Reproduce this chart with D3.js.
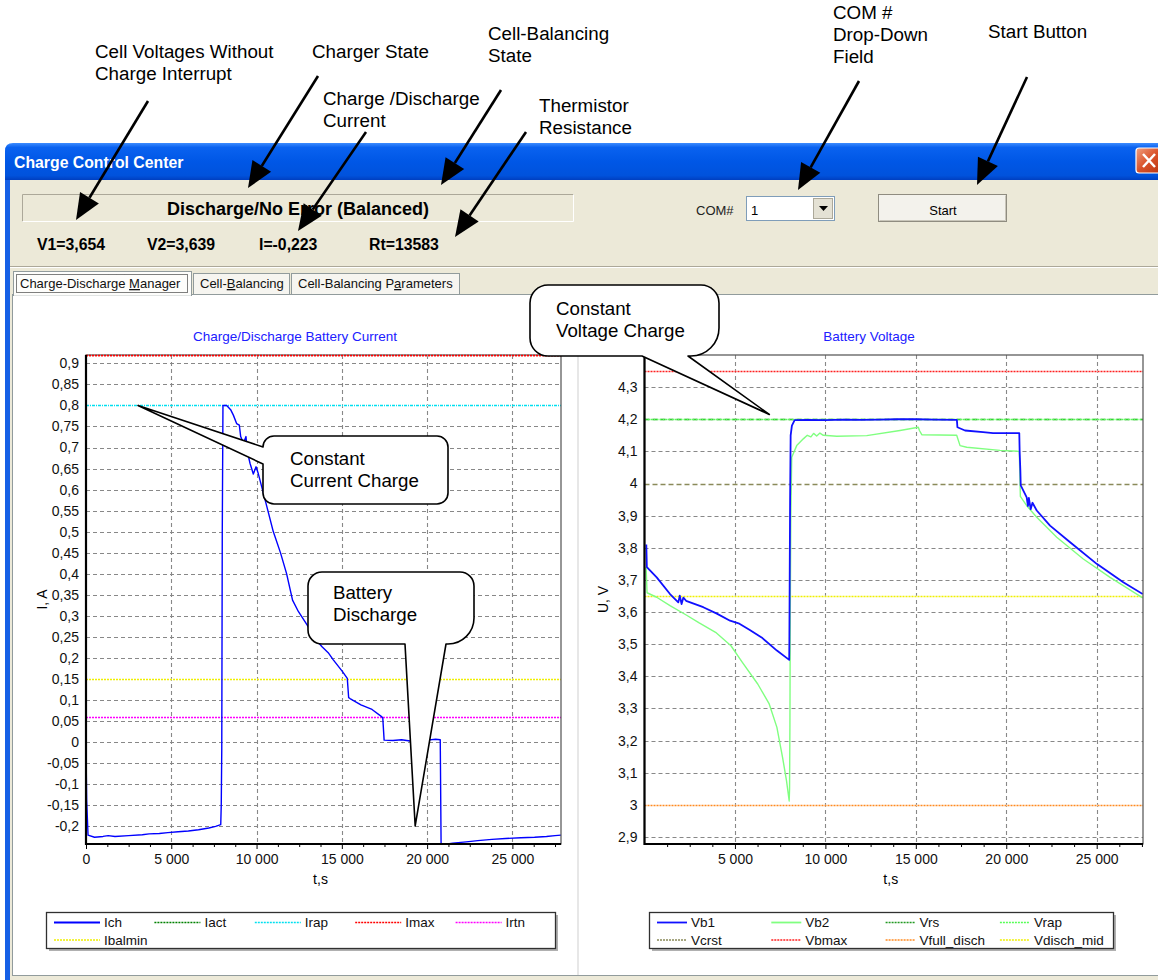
<!DOCTYPE html>
<html>
<head>
<meta charset="utf-8">
<script src="https://cdn.jsdelivr.net/npm/d3@7"></script>
<style>
  html, body { margin: 0; padding: 0; background: #fff; }
  svg { display: block; font-family: "Liberation Sans", Arial, sans-serif; }
</style>
</head>
<body>
<div id="chart"></div>
<script>
// ---- data ----
const ich = [
  [0, -0.02], [40, -0.14], [120, -0.222], [500, -0.227], [1000, -0.225], [1300, -0.223], [1700, -0.225],
  [2500, -0.223], [3300, -0.221], [3700, -0.219], [4300, -0.218], [4800, -0.216], [5400, -0.214],
  [6000, -0.212], [6600, -0.209], [7200, -0.205], [7600, -0.201], [7900, -0.197], [7930, -0.15],
  [7960, -0.02], [7990, 0.5], [8030, 0.8], [8250, 0.8], [8480, 0.79], [8640, 0.777], [8830, 0.757],
  [8990, 0.753], [9070, 0.726], [9230, 0.71], [9380, 0.726], [9460, 0.69], [9620, 0.662], [9810, 0.637],
  [9970, 0.654], [10100, 0.638], [10300, 0.607], [10600, 0.56], [10980, 0.5], [11400, 0.45], [11760, 0.4],
  [12110, 0.337], [12450, 0.31], [12980, 0.277], [13410, 0.246], [13840, 0.226], [14200, 0.212],
  [14500, 0.195], [15040, 0.167], [15320, 0.151], [15400, 0.105], [15480, 0.103], [16120, 0.088],
  [16770, 0.077], [17330, 0.06], [17400, 0.057], [17480, 0.004], [18000, 0.003], [18500, 0.005],
  [19000, 0.002], [19500, 0.006], [20000, 0.004], [20500, 0.006], [20770, 0.005], [20820, -0.245],
  [21500, -0.241], [22300, -0.238], [22970, -0.235], [23800, -0.232], [24600, -0.23], [25500, -0.228],
  [26300, -0.227], [27000, -0.225], [27500, -0.223], [27850, -0.222]
];
const vb1 = [
  [100, 3.81], [130, 3.74], [675, 3.708], [1410, 3.656], [1870, 3.63], [1950, 3.651], [2050, 3.625],
  [2150, 3.645], [2300, 3.635], [3250, 3.615], [4000, 3.595], [4730, 3.573], [5200, 3.565], [5800, 3.545],
  [6475, 3.521], [7320, 3.48], [8000, 3.451], [8010, 3.51], [8030, 3.73], [8050, 3.95], [8080, 4.15],
  [8150, 4.18], [8300, 4.197], [9000, 4.198], [10000, 4.197], [11000, 4.199], [12000, 4.198],
  [13000, 4.199], [14000, 4.2], [15000, 4.2], [16000, 4.199], [17270, 4.198], [17300, 4.175],
  [17720, 4.165], [18720, 4.16], [19270, 4.157], [20720, 4.157], [20740, 4.1], [20780, 4.04],
  [20800, 3.994], [21130, 3.957], [21200, 3.93], [21250, 3.955], [21350, 3.92], [21450, 3.94],
  [21685, 3.916], [22420, 3.869], [23530, 3.817], [25000, 3.75], [26470, 3.693], [27545, 3.656]
];
const vb2 = [
  [90, 3.74], [140, 3.66], [675, 3.646], [1410, 3.62], [2330, 3.59], [3000, 3.567], [3930, 3.537],
  [4780, 3.495], [5410, 3.443], [6260, 3.376], [6895, 3.314], [7320, 3.241], [7635, 3.147], [7850, 3.075],
  [8000, 3.012], [8020, 3.05], [8040, 3.25], [8060, 3.6], [8090, 3.9], [8140, 4.082], [8415, 4.118],
  [8780, 4.139], [9000, 4.15], [9200, 4.145], [9350, 4.156], [9520, 4.148], [9700, 4.157], [9885, 4.15],
  [10630, 4.147], [12285, 4.149], [14125, 4.165], [15140, 4.175], [15200, 4.165], [15330, 4.152],
  [17260, 4.15], [17445, 4.118], [17815, 4.113], [19655, 4.103], [20720, 4.1], [20780, 3.96],
  [21130, 3.931], [21685, 3.895], [22790, 3.833], [24260, 3.765], [25740, 3.708], [27545, 3.644]
];
const currentSeries = ["Ich", "Iact", "Irap", "Imax", "Irtn", "Ibalmin"];
const currentLimits = [["Irap", 0.8], ["Imax", 0.92], ["Irtn", 0.06], ["Ibalmin", 0.15]];
const voltageSeries = ["Vb1", "Vb2", "Vrs", "Vrap", "Vcrst", "Vbmax", "Vfull_disch", "Vdisch_mid"];
const voltageLimits = [["Vrs", 4.2], ["Vrap", 4.2], ["Vcrst", 4.0], ["Vbmax", 4.35], ["Vfull_disch", 3.0], ["Vdisch_mid", 3.65]];
const timeTicksLeft = [0, 5000, 10000, 15000, 20000, 25000];
const timeTicksRight = [5000, 10000, 15000, 20000, 25000];
const readings = ["V1=3,654", "V2=3,639", "I=-0,223", "Rt=13583"];
const tabs = [["Charge-Discharge ", "M", "anager"], ["Cell-", "B", "alancing"], ["Cell-Balancing P", "a", "rameters"]];

// ---- styles ----
const style = {
  Ich: { color: "#0000ff", width: 1.4 },
  Iact: { color: "#008000", dash: "2,1" },
  Irap: { color: "#00e0f0", dash: "3,1,1,1" },
  Imax: { color: "#ff0000", dash: "2,1" },
  Irtn: { color: "#ff00ff", dash: "2,1" },
  Ibalmin: { color: "#f0f000", dash: "2,1" },
  Vb1: { color: "#1010ff", width: 1.8 },
  Vb2: { color: "#80ff80", width: 1.4 },
  Vrs: { color: "#229922", dash: "5,3" },
  Vrap: { color: "#55ff55", dash: "2,1" },
  Vcrst: { color: "#8a8a5a", dash: "5,3" },
  Vbmax: { color: "#ff2020", dash: "2,1" },
  Vfull_disch: { color: "#ff8a20", dash: "2,1" },
  Vdisch_mid: { color: "#f0f000", dash: "2,1" },
};

const loc = d3.formatLocale({ decimal: ",", thousands: " ", grouping: [3], currency: ["", ""], minus: "-" });
const fmtI = loc.format(".2~f"), fmtV = loc.format(".1~f"), fmtT = loc.format(",");

const svg = d3.select("#chart").append("svg").attr("width", 1158).attr("height", 980);
const defs = svg.append("defs");

// ---- window chrome ----
let tb = defs.append("linearGradient").attr("id", "tb").attr("x1", 0).attr("y1", 0).attr("x2", 0).attr("y2", 1);
[[0, "#3d8cff"], [0.12, "#0a62f0"], [0.5, "#0057e6"], [0.88, "#0052dc"], [1, "#003fc0"]].forEach(s =>
  tb.append("stop").attr("offset", s[0]).attr("stop-color", s[1]));
let cb = defs.append("linearGradient").attr("id", "cb").attr("x1", 0).attr("y1", 0).attr("x2", 1).attr("y2", 1);
[[0, "#f0a080"], [0.5, "#d9522a"], [1, "#b8330f"]].forEach(s => cb.append("stop").attr("offset", s[0]).attr("stop-color", s[1]));

svg.append("rect").attr("x", 5).attr("y", 170).attr("width", 1160).attr("height", 820).attr("fill", "#1560e6");
svg.append("path").attr("d", "M5,180 V151 Q5,143 13,143 H1170 V180 Z").attr("fill", "url(#tb)");
svg.append("rect").attr("x", 10).attr("y", 180).attr("width", 1160).attr("height", 800).attr("fill", "#ece9d8");
svg.append("text").attr("x", 14).attr("y", 168).attr("fill", "#fff").attr("font-size", 15.8).attr("font-weight", "bold").text("Charge Control Center");
svg.append("rect").attr("x", 1136).attr("y", 148).attr("width", 26).attr("height", 25).attr("rx", 3).attr("fill", "url(#cb)").attr("stroke", "#fff").attr("stroke-width", 1.2);
svg.append("path").attr("d", "M1143,154 L1155,167 M1155,154 L1143,167").attr("stroke", "#fff").attr("stroke-width", 2.5);

// status box
svg.append("rect").attr("x", 22).attr("y", 194).attr("width", 552).attr("height", 28).attr("fill", "#ece9d8");
svg.append("path").attr("d", "M22.5,221.5 V194.5 H573.5").attr("fill", "none").attr("stroke", "#aca899");
svg.append("path").attr("d", "M22.5,221.5 H573.5 V194.5").attr("fill", "none").attr("stroke", "#fff");
svg.append("text").attr("x", 298).attr("y", 214.5).attr("text-anchor", "middle").attr("font-size", 18).attr("font-weight", "bold").text("Discharge/No Error (Balanced)");
svg.append("g").selectAll("text").data(readings).join("text")
  .attr("x", (d, i) => [37, 147, 259, 369][i]).attr("y", 249.5).attr("font-size", 15.8).attr("font-weight", "bold").text(d => d);

// COM# drop down and Start button
svg.append("text").attr("x", 696).attr("y", 215).attr("font-size", 13).attr("fill", "#222").text("COM#");
svg.append("rect").attr("x", 746.5).attr("y", 196.5).attr("width", 88).attr("height", 24).attr("fill", "#fff").attr("stroke", "#7f9db9");
svg.append("rect").attr("x", 813.5).attr("y", 198.5).attr("width", 19).attr("height", 20).attr("fill", "#e4e1d4").attr("stroke", "#aca899");
svg.append("path").attr("d", "M819,206 H828 L823.5,211 Z").attr("fill", "#000");
svg.append("text").attr("x", 751).attr("y", 215).attr("font-size", 13).text("1");
svg.append("rect").attr("x", 878.5).attr("y", 194.5).attr("width", 128).attr("height", 27).attr("fill", "#f3f2ec").attr("stroke", "#8f8c80");
svg.append("path").attr("d", "M879.5,220.5 H1005.5 V195.5").attr("fill", "none").attr("stroke", "#c9c6ba");
svg.append("text").attr("x", 943).attr("y", 215).attr("text-anchor", "middle").attr("font-size", 13).text("Start");

// separator and tabs
svg.append("line").attr("x1", 10).attr("x2", 1160).attr("y1", 266.5).attr("y2", 266.5).attr("stroke", "#aca899");
svg.append("line").attr("x1", 10).attr("x2", 1160).attr("y1", 267.5).attr("y2", 267.5).attr("stroke", "#fff");
svg.append("rect").attr("x", 12.5).attr("y", 294.5).attr("width", 1150).attr("height", 681).attr("fill", "#fff").attr("stroke", "#919b9c");
const tabBox = [[13, 271, 178, 24], [193, 273, 96, 21], [291, 273, 168, 21]];
tabs.forEach((t, i) => {
  const b = tabBox[i];
  svg.append("rect").attr("x", b[0] + 0.5).attr("y", b[1] + 0.5).attr("width", b[2]).attr("height", b[3])
    .attr("fill", i === 0 ? "#fdfdfb" : "#f6f5f0").attr("stroke", "#919b9c");
  const tx = svg.append("text").attr("x", b[0] + 7).attr("y", 288).attr("font-size", 13).attr("fill", "#111");
  tx.append("tspan").text(t[0]);
  tx.append("tspan").attr("text-decoration", "underline").text(t[1]);
  tx.append("tspan").text(t[2]);
});
svg.append("line").attr("x1", 14).attr("x2", 191).attr("y1", 295).attr("y2", 295).attr("stroke", "#fdfdfb").attr("stroke-width", 1.5);
svg.append("rect").attr("x", 16.5).attr("y", 274.5).attr("width", 171).attr("height", 18).attr("fill", "none")
  .attr("stroke", "#000").attr("stroke-dasharray", "1,1");
svg.append("line").attr("x1", 578).attr("x2", 578).attr("y1", 297).attr("y2", 975).attr("stroke", "#cfcfcf");

// ---- charts ----
const xL = d3.scaleLinear().domain([0, 27850]).range([86, 561]);
const yL = d3.scaleLinear().domain([-0.243, 0.92]).range([844, 355]);
const xR = d3.scaleLinear().domain([0, 27560]).range([644.5, 1143]);
const yR = d3.scaleLinear().domain([2.878, 4.40]).range([844, 355]);

function drawPanel(p) {
  const g = svg.append("g");
  const [x0, x1] = p.x.range(), [yb, yt] = p.y.range();
  defs.append("clipPath").attr("id", p.id).append("rect").attr("x", x0).attr("y", yt).attr("width", x1 - x0).attr("height", yb - yt);

  g.append("text").attr("x", p.titleX).attr("y", 341).attr("text-anchor", "middle").attr("font-size", 13.5)
    .attr("fill", "#2020ff").text(p.title);

  const yTicks = p.y.ticks(p.yCount).filter(d => p.y(d) > yt + 6);
  const grid = g.append("g").attr("stroke", "#888").attr("stroke-dasharray", "4,3").attr("stroke-width", 1.1);
  grid.selectAll(".h").data(yTicks).join("line").attr("class", "h")
    .attr("x1", x0).attr("x2", x1).attr("y1", d => Math.round(p.y(d)) + 0.5).attr("y2", d => Math.round(p.y(d)) + 0.5);
  grid.selectAll(".v").data(p.xTicks.filter(d => d > 0)).join("line").attr("class", "v")
    .attr("y1", yt).attr("y2", yb).attr("x1", d => Math.round(p.x(d)) + 0.5).attr("x2", d => Math.round(p.x(d)) + 0.5);

  const plot = g.append("g").attr("clip-path", `url(#${p.id})`);
  const ly = d => Math.round(p.y(d[1])) + 0.5;
  plot.selectAll(".limbg").data(p.limits).join("line").attr("class", "limbg")
    .attr("x1", x0).attr("x2", x1).attr("y1", ly).attr("y2", ly).attr("stroke", "#fff").attr("stroke-width", 1.6);
  plot.selectAll(".lim").data(p.limits).join("line").attr("class", "lim")
    .attr("x1", x0).attr("x2", x1).attr("y1", ly).attr("y2", ly)
    .attr("stroke", d => style[d[0]].color).attr("stroke-dasharray", d => style[d[0]].dash).attr("stroke-width", 1.6);
  const line = d3.line().x(d => p.x(d[0])).y(d => p.y(d[1]));
  p.lines.forEach(([name, data]) => {
    plot.append("path").attr("d", line(data)).attr("fill", "none")
      .attr("stroke", style[name].color).attr("stroke-width", style[name].width).attr("stroke-linejoin", "round");
  });

  // frame
  g.append("rect").attr("x", x0).attr("y", yt).attr("width", x1 - x0).attr("height", yb - yt)
    .attr("fill", "none").attr("stroke", "#505050").attr("stroke-width", 1.2);
  if (p.topLimit) {
    g.append("line").attr("x1", x0).attr("x2", x1).attr("y1", yt + 0.5).attr("y2", yt + 0.5)
      .attr("stroke", style[p.topLimit].color).attr("stroke-dasharray", style[p.topLimit].dash).attr("stroke-width", 1.5);
  }
  g.append("path").attr("d", `M${x0},${yt} V${yb} H${x1}`).attr("fill", "none").attr("stroke", "#000").attr("stroke-width", 2.2);

  // axes
  const ay = g.append("g").attr("transform", `translate(${x0},0)`)
    .call(d3.axisLeft(p.y).tickValues(yTicks).tickFormat(p.fmt).tickSize(0).tickPadding(7));
  const minor = d3.range(0, p.x.domain()[1], 1250).filter(d => d % 5000 !== 0 && d >= p.x.domain()[0]);
  const axm = g.append("g").attr("transform", `translate(0,${yb})`)
    .call(d3.axisBottom(p.x).tickValues(minor).tickFormat("").tickSize(3));
  const ax = g.append("g").attr("transform", `translate(0,${yb})`)
    .call(d3.axisBottom(p.x).tickValues(p.xTicks).tickFormat(fmtT).tickSize(5).tickPadding(5));
  [ay, axm, ax].forEach(a => {
    a.select(".domain").remove();
    a.selectAll("text").attr("font-size", 14).attr("font-family", "Liberation Sans, Arial, sans-serif").attr("fill", "#111");
    a.selectAll("line").attr("stroke", "#000");
  });

  g.append("text").attr("x", (x0 + x1) / 2 - 3).attr("y", 884).attr("text-anchor", "middle").attr("font-size", 14).text("t,s");
  g.append("text").attr("transform", `translate(${p.yTitleX},${(yt + yb) / 2}) rotate(-90)`).attr("text-anchor", "middle")
    .attr("font-size", 14).text(p.yTitle);

  // legend
  const lg = g.append("g");
  const [lx, lw] = p.legendBox;
  lg.append("rect").attr("x", lx + 3).attr("y", 915).attr("width", lw).attr("height", 36).attr("fill", "#b0b0b0");
  lg.append("rect").attr("x", lx + 0.5).attr("y", 912.5).attr("width", lw).attr("height", 36).attr("fill", "#fff")
    .attr("stroke", "#303030").attr("stroke-width", 1.3);
  const item = lg.selectAll(".it").data(p.names).join("g").attr("class", "it")
    .attr("transform", (d, i) => `translate(${lx + 8 + (i % p.perRow) * p.colW},${i < p.perRow ? 922 : 939.5})`);
  item.append("line").attr("x1", 0).attr("x2", p.swatch).attr("y1", 0.5).attr("y2", 0.5)
    .attr("stroke", d => style[d].color).attr("stroke-dasharray", d => style[d].dash ? "2,1" : null)
    .attr("stroke-width", d => style[d].dash ? 1.3 : 1.8);
  item.append("text").attr("x", p.swatch + 4).attr("y", 5).attr("font-size", 13.5).attr("fill", "#111").text(d => d);
}

drawPanel({
  id: "clipL", x: xL, y: yL, yCount: 25, fmt: fmtI, xTicks: timeTicksLeft, title: "Charge/Discharge Battery Current",
  titleX: 295, yTitle: "I, A", yTitleX: 47, limits: currentLimits, lines: [["Ich", ich]], topLimit: "Imax",
  names: currentSeries, legendBox: [46, 509], perRow: 5, colW: 100.4, swatch: 46
});
drawPanel({
  id: "clipR", x: xR, y: yR, yCount: 15, fmt: fmtV, xTicks: timeTicksRight, title: "Battery Voltage",
  titleX: 869, yTitle: "U, V", yTitleX: 608, limits: voltageLimits, lines: [["Vb2", vb2], ["Vb1", vb1]],
  names: voltageSeries, legendBox: [649, 464], perRow: 4, colW: 114.3, swatch: 30
});

// ---- callout bubbles ----
function bubble(b) {
  const { x, y, w, h, r } = b, [tx, ty] = b.tip;
  let d;
  if (b.side === "left") {
    d = `M${x + r},${y} H${x + w - r} A${r},${r} 0 0 1 ${x + w},${y + r} V${y + h - r} A${r},${r} 0 0 1 ${x + w - r},${y + h}
         H${x + r} A${r},${r} 0 0 1 ${x},${y + h - r} V${b.b2} L${tx},${ty} L${x},${b.b1} V${y + r} A${r},${r} 0 0 1 ${x + r},${y} Z`;
  } else {
    d = `M${x + r},${y} H${x + w - r} A${r},${r} 0 0 1 ${x + w},${y + r} V${y + h - b.r2} A${b.r2},${b.r2} 0 0 1 ${x + w - b.r2},${y + h}
         H${b.b2} L${tx},${ty} L${b.b1},${y + h} H${x + r} A${r},${r} 0 0 1 ${x},${y + h - r} V${y + r} A${r},${r} 0 0 1 ${x + r},${y} Z`;
  }
  svg.append("path").attr("d", d).attr("fill", "#fff").attr("stroke", "#000").attr("stroke-width", 1.6).attr("stroke-linejoin", "round");
  b.text.forEach((t, i) => svg.append("text").attr("x", b.tx).attr("y", b.ty + i * 22).attr("font-size", 18.7).text(t));
}
bubble({ x: 263, y: 436, w: 185, h: 68, r: 11, side: "left", b1: 447, b2: 464, tip: [xL(3050), yL(0.8)],
  text: ["Constant", "Current Charge"], tx: 290, ty: 465 });
bubble({ x: 308, y: 572, w: 166, h: 72, r: 14, r2: 26, side: "bottom", b1: 405, b2: 446, tip: [xL(19300), yL(-0.2)],
  text: ["Battery", "Discharge"], tx: 333, ty: 599 });
bubble({ x: 530, y: 285, w: 189, h: 71, r: 18, r2: 28, side: "bottom", b1: 642, b2: 688, tip: [xR(6900), yR(4.215)],
  text: ["Constant", "Voltage Charge"], tx: 556, ty: 315 });

// ---- top annotations with arrows ----
const notes = [
  { lines: ["Cell Voltages Without", "Charge Interrupt"], x: 95, y: 58, from: [148, 101], to: [76, 220] },
  { lines: ["Charger State"], x: 312, y: 58, from: [318, 76], to: [248, 188] },
  { lines: ["Cell-Balancing", "State"], x: 488, y: 40, from: [501, 90], to: [441, 185] },
  { lines: ["Charge /Discharge", "Current"], x: 323, y: 105, from: [366, 132], to: [298, 231] },
  { lines: ["Thermistor", "Resistance"], x: 539, y: 112, from: [526, 132], to: [455, 237] },
  { lines: ["COM #", "Drop-Down", "Field"], x: 833, y: 19, from: [859, 81], to: [798, 190] },
  { lines: ["Start Button"], x: 988, y: 38, from: [1027, 77], to: [977, 185] },
];
notes.forEach(n => {
  n.lines.forEach((t, i) => svg.append("text").attr("x", n.x).attr("y", n.y + i * 22).attr("font-size", 18.8).text(t));
});
notes.forEach(n => {
  const [x1, y1] = n.from, [x2, y2] = n.to;
  const a = Math.atan2(y2 - y1, x2 - x1), L = 26, hw = 11;
  const bx = x2 - L * Math.cos(a), by = y2 - L * Math.sin(a);
  svg.append("line").attr("x1", x1).attr("y1", y1).attr("x2", bx).attr("y2", by).attr("stroke", "#000").attr("stroke-width", 2.6);
  const px = -Math.sin(a) * hw, py = Math.cos(a) * hw;
  svg.append("path").attr("d", `M${x2},${y2} L${bx + px},${by + py} L${bx - px},${by - py} Z`).attr("fill", "#000");
});
</script>
</body>
</html>
